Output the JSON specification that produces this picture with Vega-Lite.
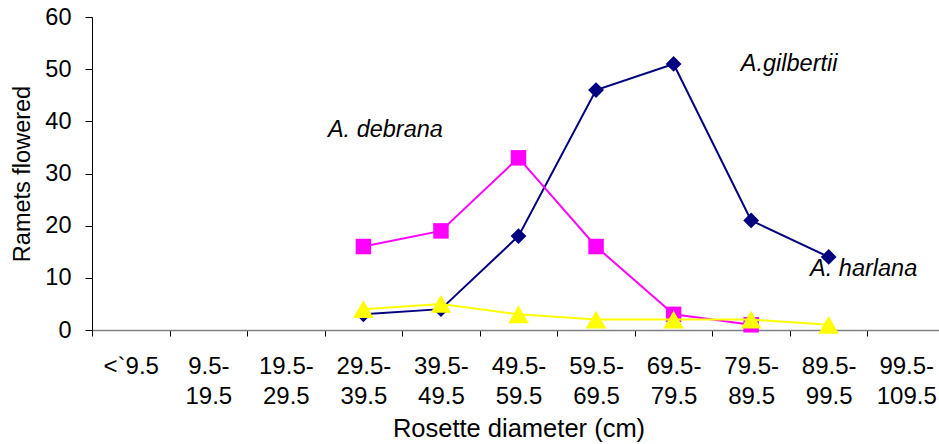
{
  "$schema": "https://vega.github.io/schema/vega-lite/v6.json",
  "width": 853,
  "height": 313,
  "autosize": {"type": "none"},
  "padding": {"left": 92, "top": 17, "right": 0, "bottom": 114},
  "background": "white",
  "config": {
    "font": "Liberation Sans",
    "view": {"stroke": null},
    "axis": {"grid": false, "labelFont": "Liberation Sans", "titleFont": "Liberation Sans", "labelColor": "black", "titleColor": "black", "titleFontWeight": "normal"}
  },
  "datasets": {
    "counts": [
      {"bin": "29.5-39.5", "species": "A.gilbertii", "value": 3},
      {"bin": "39.5-49.5", "species": "A.gilbertii", "value": 4},
      {"bin": "49.5-59.5", "species": "A.gilbertii", "value": 18},
      {"bin": "59.5-69.5", "species": "A.gilbertii", "value": 46},
      {"bin": "69.5-79.5", "species": "A.gilbertii", "value": 51},
      {"bin": "79.5-89.5", "species": "A.gilbertii", "value": 21},
      {"bin": "89.5-99.5", "species": "A.gilbertii", "value": 14},
      {"bin": "29.5-39.5", "species": "A. debrana", "value": 16},
      {"bin": "39.5-49.5", "species": "A. debrana", "value": 19},
      {"bin": "49.5-59.5", "species": "A. debrana", "value": 33},
      {"bin": "59.5-69.5", "species": "A. debrana", "value": 16},
      {"bin": "69.5-79.5", "species": "A. debrana", "value": 3},
      {"bin": "79.5-89.5", "species": "A. debrana", "value": 1},
      {"bin": "29.5-39.5", "species": "A. harlana", "value": 4},
      {"bin": "39.5-49.5", "species": "A. harlana", "value": 5},
      {"bin": "49.5-59.5", "species": "A. harlana", "value": 3},
      {"bin": "59.5-69.5", "species": "A. harlana", "value": 2},
      {"bin": "69.5-79.5", "species": "A. harlana", "value": 2},
      {"bin": "79.5-89.5", "species": "A. harlana", "value": 2},
      {"bin": "89.5-99.5", "species": "A. harlana", "value": 1}
    ],
    "labels": [
      {"label": "A.gilbertii", "bin": "79.5-89.5", "value": 51},
      {"label": "A. debrana", "bin": "29.5-39.5", "value": 38.3},
      {"label": "A. harlana", "bin": "89.5-99.5", "value": 11.7}
    ]
  },
  "encoding": {
    "x": {
      "field": "bin", "type": "ordinal", "bandPosition": 0.5,
      "scale": {"type": "band", "paddingInner": 0, "paddingOuter": 0,
        "domain": ["<`9.5", "9.5-19.5", "19.5-29.5", "29.5-39.5", "39.5-49.5", "49.5-59.5", "59.5-69.5", "69.5-79.5", "79.5-89.5", "89.5-99.5", "99.5-109.5"]},
      "axis": {
        "title": "Rosette diameter (cm)", "labelAngle": 0, "tickBand": "extent",
        "labelExpr": "indexof(datum.label, '-') > 0 ? [slice(datum.label, 0, indexof(datum.label, '-') + 1), slice(datum.label, indexof(datum.label, '-') + 1)] : datum.label",
        "labelFontSize": 24, "titleFontSize": 25.5,
        "labelLineHeight": 30, "labelPadding": 18, "labelBaseline": "top",
        "domainColor": "#808080", "domainWidth": 1.5, "tickColor": "black", "tickSize": 6,
        "titlePadding": 8
      }
    },
    "y": {
      "field": "value", "type": "quantitative",
      "scale": {"domain": [0, 60]},
      "axis": {"title": "Ramets flowered", "values": [0, 10, 20, 30, 40, 50, 60], "labelFontSize": 23.5, "titleFontSize": 23.5, "domainColor": "black", "tickColor": "black", "tickSize": 7, "labelPadding": 14, "titlePadding": 10}
    }
  },
  "layer": [
    {
      "data": {"name": "counts"},
      "transform": [{"filter": "datum.species == 'A.gilbertii'"}],
      "mark": {"type": "line", "strokeWidth": 2, "color": "#000080"},
      "encoding": {}
    },
    {
      "data": {"name": "counts"},
      "transform": [{"filter": "datum.species == 'A.gilbertii'"}],
      "mark": {"type": "point", "filled": true, "opacity": 1, "shape": "diamond", "size": 250, "color": "#000080"},
      "encoding": {}
    },
    {
      "data": {"name": "counts"},
      "transform": [{"filter": "datum.species == 'A. debrana'"}],
      "mark": {"type": "line", "strokeWidth": 2, "color": "#FF00FF"},
      "encoding": {}
    },
    {
      "data": {"name": "counts"},
      "transform": [{"filter": "datum.species == 'A. debrana'"}],
      "mark": {"type": "point", "filled": true, "opacity": 1, "shape": "square", "size": 240, "color": "#FF00FF"},
      "encoding": {}
    },
    {
      "data": {"name": "counts"},
      "transform": [{"filter": "datum.species == 'A. harlana'"}],
      "mark": {"type": "line", "strokeWidth": 2, "color": "#FFFF00"},
      "encoding": {}
    },
    {
      "data": {"name": "counts"},
      "transform": [{"filter": "datum.species == 'A. harlana'"}],
      "mark": {"type": "point", "filled": true, "opacity": 1, "shape": "triangle-up", "size": 420, "color": "#FFFF00"},
      "encoding": {}
    },
    {
      "data": {"name": "labels"},
      "transform": [{"filter": "datum.label == 'A.gilbertii'"}],
      "mark": {"type": "text", "fontStyle": "italic", "fontSize": 23.5, "dx": 38, "baseline": "middle", "color": "black"},
      "encoding": {"text": {"field": "label"}}
    },
    {
      "data": {"name": "labels"},
      "transform": [{"filter": "datum.label == 'A. debrana'"}],
      "mark": {"type": "text", "fontStyle": "italic", "fontSize": 23.5, "dx": 22, "baseline": "middle", "color": "black"},
      "encoding": {"text": {"field": "label"}}
    },
    {
      "data": {"name": "labels"},
      "transform": [{"filter": "datum.label == 'A. harlana'"}],
      "mark": {"type": "text", "fontStyle": "italic", "fontSize": 23.5, "dx": 35, "baseline": "middle", "color": "black"},
      "encoding": {"text": {"field": "label"}}
    }
  ]
}
